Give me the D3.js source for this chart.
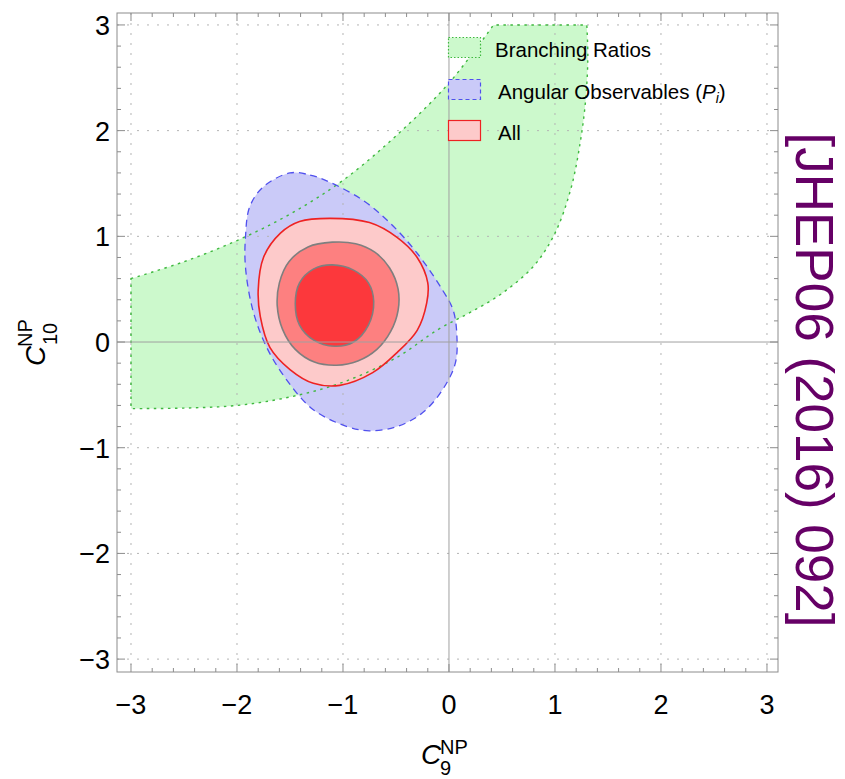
<!DOCTYPE html>
<html>
<head>
<meta charset="utf-8">
<script src="https://cdn.jsdelivr.net/npm/d3@7"></script>
<style>
  body { margin: 0; background: #fff; }
  text { font-family: "Liberation Sans", Arial, Helvetica, sans-serif; }
</style>
</head>
<body>
<svg id="chart" width="845" height="779"></svg>
<script>
// ---- data ----
const xTickValues = [-3, -2, -1, 0, 1, 2, 3];
const yTickValues = [-3, -2, -1, 0, 1, 2, 3];
const tickLabels = ["\u22123", "\u22122", "\u22121", "0", "1", "2", "3"];
const legendLabels = ["Branching Ratios", "Angular Observables", "All"];
const citation = "[JHEP06 (2016) 092]";

// Branching-ratio allowed band (C9, C10): upper edge left → top, lower edge top-right → left
const brUpper = [[-3, 0.60], [-2.5, 0.76], [-2.0, 0.96], [-1.5, 1.21], [-1.0, 1.53], [-0.5, 1.95],
  [0.0, 2.45], [0.42, 3.0]];
const brLower = [[1.30, 3.0], [1.31, 2.70], [1.29, 2.30], [1.24, 1.90], [1.15, 1.45], [1.0, 1.03],
  [0.8, 0.72], [0.5, 0.46], [0.2, 0.28], [-0.1, 0.12], [-0.5, -0.15], [-1.0, -0.38],
  [-1.5, -0.52], [-2.0, -0.60], [-2.5, -0.625], [-3, -0.63]];

// Angular observables (P_i) allowed region
const angular = [[-1.50, 1.60], [-1.31, 1.58], [-1.12, 1.51], [-0.81, 1.34], [-0.56, 1.13], [-0.30, 0.84],
  [-0.06, 0.49], [0.04, 0.30], [0.075, 0.05], [0.06, -0.20], [-0.06, -0.45], [-0.25, -0.67],
  [-0.49, -0.80], [-0.75, -0.84], [-0.96, -0.80], [-1.28, -0.64], [-1.53, -0.36], [-1.72, -0.05],
  [-1.85, 0.30], [-1.92, 0.71], [-1.92, 0.99], [-1.88, 1.28], [-1.75, 1.47]];

// Global fit ("All"): three nested confidence regions
const allOuter = [[-1.12, 1.17], [-0.75, 1.13], [-0.49, 0.99], [-0.30, 0.80], [-0.20, 0.56], [-0.21, 0.37],
  [-0.30, 0.11], [-0.49, -0.10], [-0.72, -0.29], [-1.03, -0.41], [-1.28, -0.39], [-1.50, -0.26],
  [-1.69, -0.05], [-1.78, 0.24], [-1.80, 0.49], [-1.75, 0.80], [-1.59, 1.03], [-1.41, 1.14]];
const allMiddle = [[-1.10, 0.945], [-0.88, 0.93], [-0.70, 0.85], [-0.56, 0.70], [-0.48, 0.50], [-0.48, 0.30],
  [-0.55, 0.10], [-0.68, -0.07], [-0.86, -0.18], [-1.06, -0.22], [-1.27, -0.19], [-1.45, -0.07],
  [-1.57, 0.12], [-1.62, 0.34], [-1.60, 0.56], [-1.51, 0.76], [-1.33, 0.90]];
const allInner = [[-0.71, 0.38], [-0.76, 0.56], [-0.90, 0.68], [-1.10, 0.73], [-1.28, 0.69], [-1.41, 0.56],
  [-1.45, 0.36], [-1.41, 0.16], [-1.28, 0.02], [-1.08, -0.04], [-0.90, 0.0], [-0.76, 0.16]];

// ---- layout ----
const svg = d3.select("#chart");
const frame = { left: 117, right: 778, top: 13, bottom: 672 };
const x = d3.scaleLinear().domain([-3.132, 3.104]).range([frame.left, frame.right]);
const y = d3.scaleLinear().domain([-3.122, 3.113]).range([frame.bottom, frame.top]);

const colors = {
  brFill: "#ccf9cc", brStroke: "#3fb83f",
  angFill: "#cacaf8", angStroke: "#5050ee",
  outerFill: "#fdcaca", outerStroke: "#ee2222",
  midFill: "#fd8080", innerFill: "#fc383c", innerStroke: "#7f7f7f",
  purple: "#660066"
};

svg.append("defs").append("clipPath").attr("id", "plotClip")
  .append("rect").attr("x", frame.left).attr("y", frame.top)
  .attr("width", frame.right - frame.left).attr("height", frame.bottom - frame.top);

const plot = svg.append("g").attr("clip-path", "url(#plotClip)");

const openLine = d3.line().x(d => x(d[0])).y(d => y(d[1])).curve(d3.curveCatmullRom.alpha(0.5));
const closedLine = d3.line().x(d => x(d[0])).y(d => y(d[1])).curve(d3.curveCatmullRomClosed.alpha(0.5));

const brPath = openLine(brUpper) + openLine(brLower).replace(/^M/, "L") + "Z";

// fills
plot.append("path").attr("d", brPath).attr("fill", colors.brFill);
plot.append("path").attr("d", closedLine(angular)).attr("fill", colors.angFill);

// dotted grid
const grid = plot.append("g").attr("stroke", "#b4b4b4").attr("stroke-width", 1)
  .attr("stroke-dasharray", "2,8");
grid.selectAll(".gx").data(xTickValues.filter(v => v !== 0)).join("line")
  .attr("x1", d => x(d)).attr("x2", d => x(d)).attr("y1", frame.top).attr("y2", frame.bottom);
grid.selectAll(".gy").data(yTickValues.filter(v => v !== 0)).join("line")
  .attr("y1", d => y(d)).attr("y2", d => y(d)).attr("x1", frame.left).attr("x2", frame.right);

plot.append("path").attr("d", closedLine(allOuter)).attr("fill", colors.outerFill);

// boundaries
plot.append("path").attr("d", brPath).attr("fill", "none").attr("stroke", colors.brStroke)
  .attr("stroke-width", 1.4).attr("stroke-dasharray", "2.5,4.5");
plot.append("path").attr("d", closedLine(angular)).attr("fill", "none").attr("stroke", colors.angStroke)
  .attr("stroke-width", 1.3).attr("stroke-dasharray", "7,5");
plot.append("path").attr("d", closedLine(allOuter)).attr("fill", "none").attr("stroke", colors.outerStroke)
  .attr("stroke-width", 1.6);
plot.append("path").attr("d", closedLine(allMiddle)).attr("fill", colors.midFill)
  .attr("stroke", colors.innerStroke).attr("stroke-width", 1.6);
plot.append("path").attr("d", closedLine(allInner)).attr("fill", colors.innerFill)
  .attr("stroke", colors.innerStroke).attr("stroke-width", 1.6);

// zero axes
plot.append("line").attr("x1", x(0)).attr("x2", x(0)).attr("y1", frame.top).attr("y2", frame.bottom)
  .attr("stroke", "#a0a0a0").attr("stroke-width", 1);
plot.append("line").attr("y1", y(0)).attr("y2", y(0)).attr("x1", frame.left).attr("x2", frame.right)
  .attr("stroke", "#a0a0a0").attr("stroke-width", 1);

// frame with inward ticks on all sides
const frameG = svg.append("g");
frameG.append("rect").attr("x", frame.left).attr("y", frame.top)
  .attr("width", frame.right - frame.left).attr("height", frame.bottom - frame.top)
  .attr("fill", "none").attr("stroke", "#8c8c8c").attr("stroke-width", 1);

const minor = d3.range(-3.0, 3.01, 0.2).map(v => Math.round(v * 10) / 10)
  .filter(v => !xTickValues.includes(v));
function ticks(axis, vals, len) {
  const scale = axis === "x" ? x : y;
  vals.forEach(v => {
    const p = scale(v);
    if (axis === "x") {
      frameG.append("line").attr("x1", p).attr("x2", p).attr("y1", frame.bottom).attr("y2", frame.bottom - len);
      frameG.append("line").attr("x1", p).attr("x2", p).attr("y1", frame.top).attr("y2", frame.top + len);
    } else {
      frameG.append("line").attr("y1", p).attr("y2", p).attr("x1", frame.left).attr("x2", frame.left + len);
      frameG.append("line").attr("y1", p).attr("y2", p).attr("x1", frame.right).attr("x2", frame.right - len);
    }
  });
}
ticks("x", xTickValues, 8); ticks("x", minor, 4);
ticks("y", yTickValues, 8); ticks("y", minor, 4);
frameG.selectAll("line").attr("stroke", "#8c8c8c").attr("stroke-width", 1);

// tick labels
svg.append("g").selectAll("text").data(xTickValues).join("text")
  .attr("x", d => x(d)).attr("y", 714).attr("text-anchor", "middle")
  .attr("font-size", 27).attr("fill", "#000").text((d, i) => tickLabels[i]);
svg.append("g").selectAll("text").data(yTickValues).join("text")
  .attr("x", 110).attr("y", d => y(d) + 10).attr("text-anchor", "end")
  .attr("font-size", 27).attr("fill", "#000").text((d, i) => tickLabels[i]);

// axis titles
const xt = svg.append("g").attr("transform", "translate(421,764)");
xt.append("text").attr("font-size", 28).attr("font-style", "italic").text("C");
xt.append("text").attr("x", 19).attr("y", -10).attr("font-size", 20).text("NP");
xt.append("text").attr("x", 19).attr("y", 11).attr("font-size", 20).text("9");

const yt = svg.append("g").attr("transform", "translate(45,366) rotate(-90)");
yt.append("text").attr("font-size", 28).attr("font-style", "italic").text("C");
yt.append("text").attr("x", 19).attr("y", -13).attr("font-size", 20).text("NP");
yt.append("text").attr("x", 21).attr("y", 12).attr("font-size", 20).text("10");

// legend
const legend = svg.append("g");
const legendRows = [
  { fill: colors.brFill, stroke: colors.brStroke, dash: "1.5,2", y: 37 },
  { fill: colors.angFill, stroke: colors.angStroke, dash: "4,3", y: 79 },
  { fill: colors.outerFill, stroke: colors.outerStroke, dash: null, y: 120 }
];
legendRows.forEach((r, i) => {
  legend.append("rect").attr("x", 448.5).attr("y", r.y + 0.5).attr("width", 32).attr("height", 20)
    .attr("fill", r.fill).attr("stroke", r.stroke).attr("stroke-width", 1.2)
    .attr("stroke-dasharray", r.dash);
  const t = legend.append("text").attr("x", i === 0 ? 495 : 498).attr("y", r.y + 20)
    .attr("font-size", 20.5).attr("fill", "#000");
  t.append("tspan").text(legendLabels[i]);
  if (i === 1) {
    t.append("tspan").text(" (");
    t.append("tspan").attr("font-style", "italic").text("P");
    t.append("tspan").attr("font-style", "italic").attr("font-size", 14).attr("dy", 4).text("i");
    t.append("tspan").attr("dy", -4).text(")");
  }
});

// citation, reading top to bottom along the right edge
svg.append("text").attr("transform", "translate(796,380) rotate(90)")
  .attr("text-anchor", "middle").attr("font-size", 53).attr("fill", colors.purple)
  .text(citation);
</script>
</body>
</html>
